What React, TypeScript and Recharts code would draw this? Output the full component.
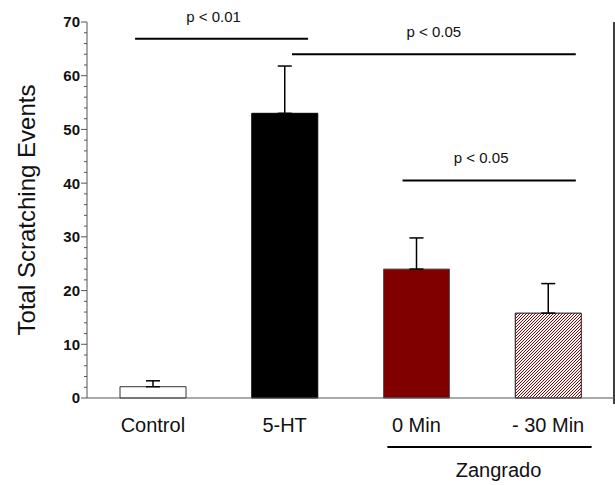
import { BarChart, Bar, Cell, XAxis, YAxis, ErrorBar, ReferenceLine, Label } from "recharts"

const FONT = "'Liberation Sans', Arial, Helvetica, sans-serif"

const CATEGORIES = ["Control", "5-HT", "0 Min", "- 30 Min"]
const POSITIONS = [0.5, 1.5, 2.5, 3.5]
const MEANS = [2.1, 53.0, 24.0, 15.8]
const SEM = [1.1, 8.8, 5.8, 5.5]
const FILLS = ["#ffffff", "#000000", "#800000", "url(#hatch)"]
const STROKES = ["#333333", "#000000", "#555555", "#111111"]

const Y_TICKS = [0, 2, 4, 6, 8, 10, 12, 14, 16, 18, 20, 22, 24, 26, 28, 30, 32, 34, 36, 38, 40, 42, 44, 46, 48, 50, 52, 54, 56, 58, 60, 62, 64, 66, 68, 70]

// significance brackets (numeric x: 0..4 spans the four categories)
const SIG_LABELS = ["p < 0.01", "p < 0.05", "p < 0.05"]
const SIG_FROM = [0.365, 1.556, 2.395]
const SIG_TO = [1.678, 3.71, 3.71]
const SIG_Y = [66.9, 64.0, 40.5]
const SIG_DX = [-8, 0, -8]

const GROUP_LABEL = "Zangrado"
const GROUP_FROM = 2.28
const GROUP_TO = 3.83
const GROUP_Y = -9.1

const rows = CATEGORIES.map((name, i) => ({ name, pos: POSITIONS[i], value: MEANS[i], err: [0, SEM[i]] }))

function YTick(props: any) {
  const { x, y, payload } = props
  const major = payload.value % 10 === 0
  return (
    <g>
      <line x1={x - (major ? 6 : 3)} x2={x} y1={y} y2={y} stroke="#555" strokeWidth={1} />
      {major && (
        <text x={x - 7} y={y} dy="0.36em" textAnchor="end" fontSize={15} fontWeight="bold" fill="#111" fontFamily={FONT}>
          {payload.value}
        </text>
      )}
    </g>
  )
}

export default function App() {
  return (
    <div style={{ position: "absolute", left: 0, top: 0, width: 615, height: 485, background: "#fff" }}>
      <svg width={0} height={0} style={{ position: "absolute" }}>
        <defs>
          <pattern id="hatch" width={3} height={3} patternUnits="userSpaceOnUse">
            <rect width={3} height={3} fill="#fff" />
            <path d="M-1,1 L1,-1 M0,3 L3,0 M2,4 L4,2" stroke="#8b0000" strokeWidth={1} />
          </pattern>
        </defs>
      </svg>
      <BarChart width={615} height={485} data={rows} margin={{ top: 22, right: 1, bottom: 47, left: 0 }} style={{ fontFamily: FONT }}>
        <XAxis
          xAxisId="cat"
          dataKey="name"
          tickLine={false}
          tickSize={8}
          tickMargin={12}
          height={40}
          stroke="#555"
          tick={{ fontSize: 20, fill: "#111", fontFamily: FONT }}
        />
        <XAxis xAxisId="num" dataKey="pos" type="number" domain={[0, 4]} allowDataOverflow hide />
        <YAxis
          domain={[0, 70]}
          ticks={Y_TICKS}
          interval={0}
          width={87}
          tickSize={0}
          tickMargin={0}
          stroke="#555"
          tick={<YTick />}
        >
          <Label
            content={({ viewBox }: any) => {
              const cx = viewBox.x + 26
              const cy = viewBox.y + viewBox.height / 2
              return (
                <text x={cx} y={cy} transform={`rotate(-90, ${cx}, ${cy})`} textAnchor="middle" dominantBaseline="central" fontSize={24} fill="#111" fontFamily={FONT}>
                  Total Scratching Events
                </text>
              )
            }}
          />
        </YAxis>
        <Bar xAxisId="cat" dataKey="value" barSize={66} isAnimationActive={false} strokeWidth={1}>
          {rows.map((r, i) => (
            <Cell key={r.name} fill={FILLS[i]} stroke={STROKES[i]} />
          ))}
          <ErrorBar dataKey="err" direction="y" width={7} stroke="#000" strokeWidth={1.5} />
        </Bar>
        {SIG_LABELS.map((lab, i) => (
          <ReferenceLine
            key={i}
            xAxisId="num"
            segment={[{ x: SIG_FROM[i], y: SIG_Y[i] }, { x: SIG_TO[i], y: SIG_Y[i] }]}
            stroke="#000"
            strokeWidth={2}
            ifOverflow="visible"
          >
            <Label value={lab} position="top" offset={17} dx={SIG_DX[i]} fontSize={15} fill="#111" fontFamily={FONT} />
          </ReferenceLine>
        ))}
        <ReferenceLine
          xAxisId="num"
          segment={[{ x: GROUP_FROM, y: GROUP_Y }, { x: GROUP_TO, y: GROUP_Y }]}
          stroke="#000"
          strokeWidth={2}
          ifOverflow="visible"
        >
          <Label value={GROUP_LABEL} position="bottom" offset={16} dx={9} fontSize={20} fill="#111" fontFamily={FONT} />
        </ReferenceLine>
        <ReferenceLine
          xAxisId="num"
          segment={[{ x: 4, y: 70 }, { x: 4, y: -1.1 }]}
          stroke="#000"
          strokeWidth={1.5}
          ifOverflow="visible"
        />
      </BarChart>
    </div>
  )
}
